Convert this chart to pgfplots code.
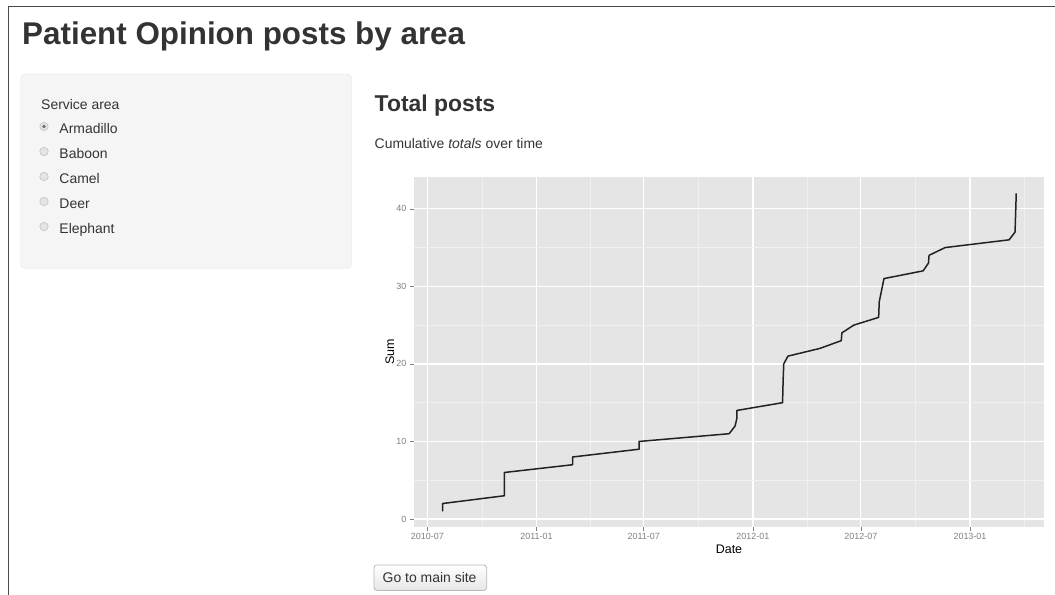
\documentclass[border=0pt]{standalone}
\usepackage{fontspec}
\setmainfont{Liberation Sans}
\usepackage{pgfplots}
\pgfplotsset{compat=1.18}

\definecolor{txt}{HTML}{333333}
\definecolor{wellfill}{HTML}{F5F5F5}
\definecolor{welldraw}{HTML}{E3E3E3}
\definecolor{framec}{HTML}{4A4A4A}
\definecolor{radiofill}{HTML}{E4E4E4}
\definecolor{radiodraw}{HTML}{C2C2C2}
\definecolor{radiodot}{HTML}{707070}
\definecolor{btndraw}{HTML}{B8B8B8}
\definecolor{btnbot}{HTML}{E6E6E6}
\definecolor{ggpanel}{HTML}{E5E5E5}
\definecolor{ggminor}{HTML}{F0F0F0}
\definecolor{grey50}{HTML}{7F7F7F}
\definecolor{ggline}{HTML}{222222}

\begin{document}
\begin{tikzpicture}
\path[use as bounding box] (0bp,0bp) rectangle (1055bp,-595bp);

\begin{scope}[x=1bp, y=-1bp]
  % window frame
  \draw[framec, line width=1.3bp] (1056,6.7) -- (8.3,6.7) -- (8.3,596);
  % page title
  \node[anchor=base west, inner sep=0pt, text=txt, font=\fontsize{31.5}{36}\selectfont\bfseries]
    at (22,44.5) {Patient Opinion posts by area};
  % sidebar
  \draw[draw=welldraw, fill=wellfill, rounded corners=4bp] (20.7,74) rectangle (351.5,268.3);
  \node[anchor=base west, inner sep=0pt, text=txt, font=\fontsize{14}{16}\selectfont]
    at (41,109) {Service area};
  \foreach \name [count=\i from 0] in {Armadillo,Baboon,Camel,Deer,Elephant}{
    \pgfmathsetmacro{\yb}{133.3+25*\i}
    \draw[radiodraw, fill=radiofill, line width=0.6bp] (44,\yb-6.8) circle (4.2);
    \node[anchor=base west, inner sep=0pt, text=txt, font=\fontsize{14}{16}\selectfont]
      at (59.3,\yb) {\name};
  }
  \fill[radiodot] (44,126.5) circle (1.9);
  % main panel headings
  \node[anchor=base west, inner sep=0pt, text=txt, font=\fontsize{23}{26}\selectfont\bfseries]
    at (374.5,111.5) {Total posts};
  \node[anchor=base west, inner sep=0pt, text=txt, font=\fontsize{14}{16}\selectfont]
    at (374.5,148.3) {Cumulative \textit{totals} over time};
  % button
  \shade[top color=white, bottom color=btnbot, rounded corners=3bp] (374,565) rectangle (486.7,590.5);
  \draw[btndraw, line width=0.8bp, rounded corners=3bp] (374,565) rectangle (486.7,590.5);
  \node[anchor=base west, inner sep=0pt, text=txt, font=\fontsize{14}{16}\selectfont]
    at (382.5,582.7) {Go to main site};
\end{scope}

\begin{axis}[
  at={(414bp,-527bp)}, anchor=south west,
  scale only axis, width=630bp, height=350bp,
  xmin=-22.4, xmax=1039.8, ymin=-1.03, ymax=44.1,
  axis background/.style={fill=ggpanel},
  axis line style={draw=none},
  xtick={0,184,365,549,731,915},
  xticklabels={2010-07,2011-01,2011-07,2012-01,2012-07,2013-01},
  minor xtick={92,274.5,457,640,823,1006},
  ytick={0,10,20,30,40},
  yticklabels={0,10,20,30,40},
  minor ytick={5,15,25,35},
  grid=both,
  major grid style={draw=white, line width=1.2bp},
  minor grid style={draw=ggminor, line width=0.6bp},
  tick align=outside,
  major tick length=4bp, minor tick length=0bp,
  tick style={draw=grey50, line width=0.6bp},
  xtick pos=left, ytick pos=left,
  ticklabel style={font=\fontsize{9}{9}\selectfont, text=grey50},
  xticklabel style={anchor=north, inner sep=0pt, yshift=-2bp},
  yticklabel style={anchor=east, inner sep=0pt, xshift=-3.5bp},
  xlabel={Date}, ylabel={Sum},
  label style={font=\fontsize{12.5}{12.5}\selectfont, text=black, inner sep=0pt},
  xlabel style={at={(axis description cs:0.5,-0.0743)}, anchor=base},
  ylabel style={at={(axis description cs:-0.0317,0.5)}, anchor=base},
]
% x = days since 2010-07-01, y = cumulative posts
\addplot[ggline, line width=1.5bp, line join=round] coordinates {
  (26,1)(26,2)(130,3)(130,6)(245,7)(245,8)(357,9)(357,10)
  (509,11)(519,12)(522,13)(522,14)(599,15)(600,18)(601,20)(608,21)
  (662,22)(698,23)(699,24)(719,25)(761,26)(762,28)(770,31)
  (836,32)(845,33)(846,34)(873,35)(981,36)(991,37)(993,42)
};
\end{axis}
\end{tikzpicture}
\end{document}
